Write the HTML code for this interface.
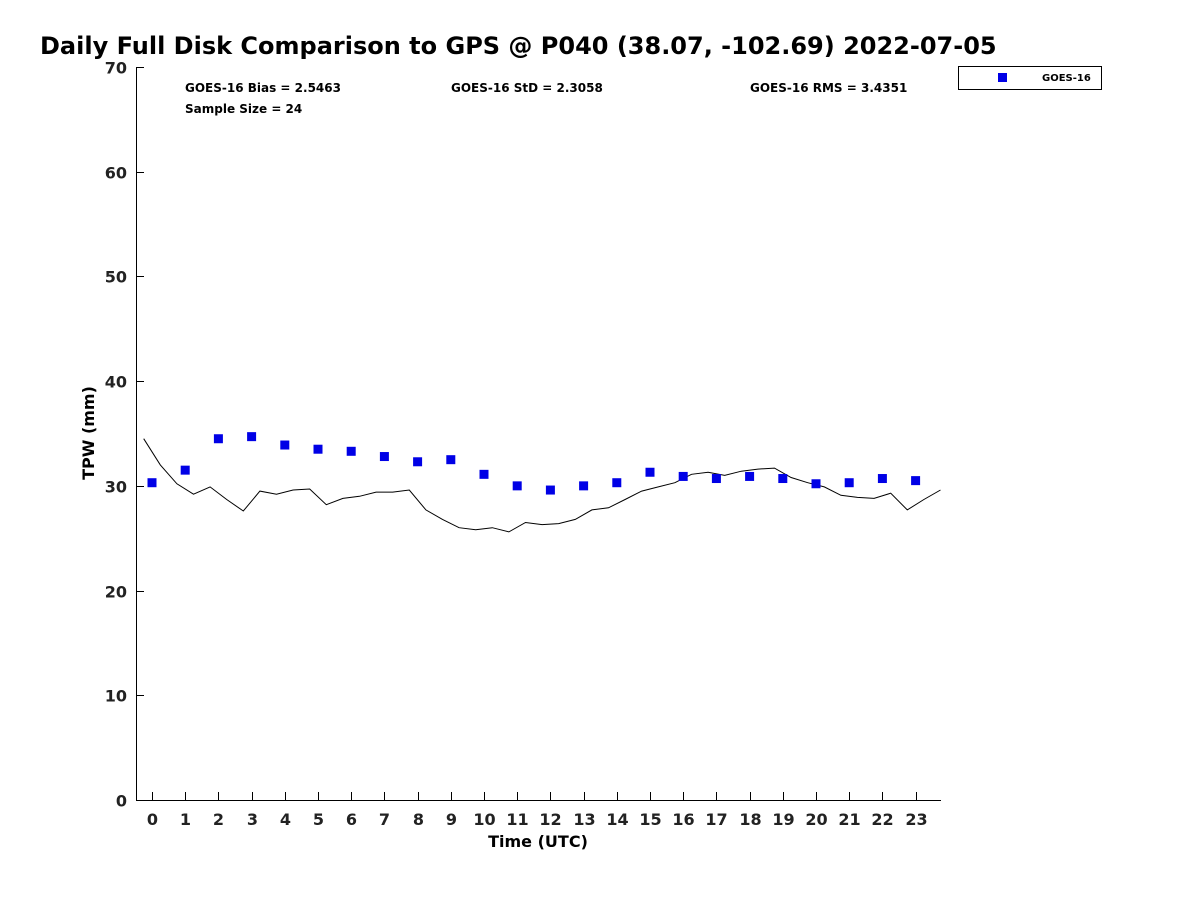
<!DOCTYPE html>
<html><head><meta charset="utf-8"><style>
body{margin:0;background:#fff;font-family:"Liberation Sans","DejaVu Sans",sans-serif}
</style></head><body>
<svg id="chart" width="1200" height="900" xmlns="http://www.w3.org/2000/svg" font-family="DejaVu Sans, Liberation Sans, sans-serif">
<text x="40" y="54" font-size="24" font-weight="bold">Daily Full Disk Comparison to GPS @ P040 (38.07, -102.69) 2022-07-05</text>
<g id="axes"></g>
<g id="marks"></g>
<text x="185" y="92" font-size="12" font-weight="bold">GOES-16 Bias = 2.5463</text>
<text x="451" y="92" font-size="12" font-weight="bold">GOES-16 StD = 2.3058</text>
<text x="750" y="92" font-size="12" font-weight="bold">GOES-16 RMS = 3.4351</text>
<text x="185" y="113" font-size="12" font-weight="bold">Sample Size = 24</text>
<g>
<rect x="958.5" y="66.5" width="143" height="23" fill="#fff" stroke="#000" stroke-width="1"/>
<rect x="998" y="73" width="9" height="9" fill="#0000e6"/>
<text x="1042" y="81" font-size="10" font-weight="bold">GOES-16</text>
</g>
<text x="538" y="847" font-size="16" font-weight="bold" text-anchor="middle">Time (UTC)</text>
<text transform="translate(94,433) rotate(-90)" font-size="16" font-weight="bold" text-anchor="middle">TPW (mm)</text>
</svg>
<script>
const hours=[0,1,2,3,4,5,6,7,8,9,10,11,12,13,14,15,16,17,18,19,20,21,22,23];
const goesValues=[30.3,31.5,34.5,34.7,33.9,33.5,33.3,32.8,32.3,32.5,31.1,30.0,29.6,30.0,30.3,31.3,30.9,30.7,30.9,30.7,30.2,30.3,30.7,30.5];
const gpsStart=-0.25, gpsStep=0.5;
const gpsValues=[34.5,32.0,30.2,29.2,29.9,28.7,27.6,29.5,29.2,29.6,29.7,28.2,28.8,29.0,29.4,29.4,29.6,27.7,26.8,26.0,25.8,26.0,25.6,26.5,26.3,26.4,26.8,27.7,27.9,28.7,29.5,29.9,30.3,31.1,31.3,31.0,31.4,31.6,31.7,30.8,30.3,29.9,29.1,28.9,28.8,29.3,27.7,28.7,29.6];
const yTicks=[0,10,20,30,40,50,60,70];
const NS="http://www.w3.org/2000/svg";
const L=136,R=941,T=67,B=800;
const xs=t=>152+t*33.2;
const ys=v=>B-(v/70)*(B-T);
function mk(tag,attrs,parent){const e=document.createElementNS(NS,tag);for(const k in attrs)e.setAttribute(k,attrs[k]);parent.appendChild(e);return e;}
const axes=document.getElementById('axes'),marks=document.getElementById('marks');
const frame=mk('path',{d:`M${L+.5},${T} L${L+.5},${B+.5} L${R},${B+.5}`,fill:'none',stroke:'#000','stroke-width':1},axes);


yTicks.forEach(v=>{
 const y=Math.round(ys(v))+.5;
 const t=mk('line',{x1:L,x2:L+8,y1:y,y2:y,stroke:'#000'},axes);
 
 
 const lb=mk('text',{x:L-9,y:y+6,'font-size':16,'font-weight':'bold','text-anchor':'end',fill:'#222'},axes);
 lb.textContent=v;
 
 
});
hours.forEach(h=>{
 const x=Math.round(xs(h))+.5;
 const t=mk('line',{x1:x,x2:x,y1:B,y2:B-8,stroke:'#000'},axes);
 
 
 const lb=mk('text',{x:x,y:B+25,'font-size':16,'font-weight':'bold','text-anchor':'middle',fill:'#222'},axes);
 lb.textContent=h;
 
 
});
const pts=gpsValues.map((v,i)=>`${xs(gpsStart+i*gpsStep).toFixed(1)},${ys(v).toFixed(1)}`).join(' ');
const line=mk('polyline',{points:pts,fill:'none',stroke:'#000','stroke-width':1},marks);


goesValues.forEach((v,i)=>{
 const r=mk('rect',{x:xs(hours[i])-4.5,y:ys(v)-4.5,width:9,height:9,fill:'#0000e6'},marks);
 
 
});
</script>
</body></html>
